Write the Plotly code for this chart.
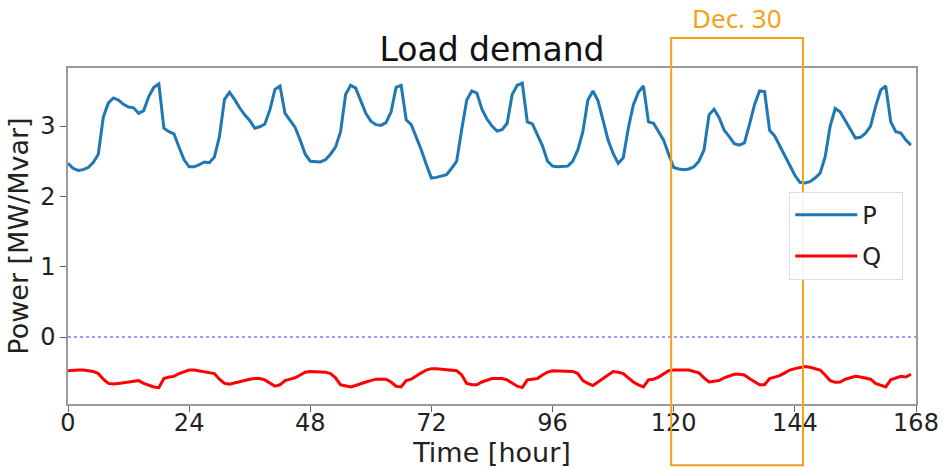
import plotly.graph_objects as go

hours = list(range(168))

P = [2.47, 2.40, 2.37, 2.38, 2.41, 2.48, 2.60, 3.13, 3.33, 3.40, 3.37, 3.31, 3.27, 3.26, 3.18, 3.22,
     3.42, 3.55, 3.60, 2.97, 2.92, 2.89, 2.70, 2.52, 2.42, 2.42, 2.45, 2.49, 2.48, 2.56, 2.85, 3.38,
     3.48, 3.38, 3.26, 3.16, 3.08, 2.97, 2.99, 3.03, 3.23, 3.52, 3.57, 3.18, 3.08, 2.98, 2.80, 2.60,
     2.50, 2.49, 2.49, 2.52, 2.60, 2.70, 2.92, 3.45, 3.58, 3.54, 3.35, 3.18, 3.07, 3.02, 3.01, 3.05,
     3.20, 3.55, 3.58, 3.09, 3.02, 2.85, 2.66, 2.45, 2.26, 2.27, 2.29, 2.31, 2.40, 2.50, 2.95, 3.37,
     3.50, 3.47, 3.24, 3.10, 3.00, 2.93, 2.95, 3.04, 3.45, 3.58, 3.61, 3.06, 3.03, 2.88, 2.72, 2.50,
     2.43, 2.42, 2.42, 2.43, 2.50, 2.66, 2.92, 3.37, 3.50, 3.36, 3.08, 2.80, 2.61, 2.47, 2.55, 2.97,
     3.30, 3.48, 3.57, 3.06, 3.04, 2.92, 2.80, 2.60, 2.41, 2.39, 2.38, 2.39, 2.42, 2.50, 2.66, 3.16,
     3.24, 3.12, 2.94, 2.85, 2.75, 2.73, 2.76, 3.02, 3.30, 3.50, 3.49, 2.94, 2.86, 2.72, 2.58, 2.44,
     2.30, 2.20, 2.19, 2.21, 2.26, 2.33, 2.56, 3.00, 3.25, 3.20, 3.07, 2.95, 2.83, 2.84, 2.90, 3.00,
     3.28, 3.51, 3.57, 3.06, 2.92, 2.90, 2.80, 2.73]

Q = [-0.48, -0.47, -0.47, -0.47, -0.48, -0.49, -0.52, -0.60, -0.66, -0.67, -0.66, -0.65, -0.64, -0.63,
     -0.62, -0.66, -0.69, -0.71, -0.72, -0.59, -0.57, -0.56, -0.52, -0.49, -0.47, -0.47, -0.48, -0.49,
     -0.50, -0.52, -0.60, -0.66, -0.67, -0.65, -0.64, -0.62, -0.60, -0.59, -0.59, -0.61, -0.66, -0.70,
     -0.68, -0.62, -0.60, -0.58, -0.54, -0.50, -0.49, -0.49, -0.49, -0.50, -0.52, -0.58, -0.68, -0.70,
     -0.71, -0.69, -0.66, -0.64, -0.62, -0.60, -0.60, -0.60, -0.64, -0.70, -0.71, -0.62, -0.60, -0.55,
     -0.51, -0.47, -0.45, -0.45, -0.455, -0.46, -0.47, -0.48, -0.54, -0.66, -0.68, -0.68, -0.64, -0.61,
     -0.59, -0.59, -0.59, -0.61, -0.66, -0.70, -0.72, -0.61, -0.60, -0.59, -0.54, -0.50, -0.48, -0.48,
     -0.48, -0.48, -0.49, -0.52, -0.62, -0.66, -0.69, -0.64, -0.59, -0.53, -0.49, -0.50, -0.52, -0.58,
     -0.64, -0.68, -0.71, -0.61, -0.60, -0.57, -0.53, -0.48, -0.47, -0.47, -0.47, -0.47, -0.49, -0.51,
     -0.58, -0.64, -0.63, -0.62, -0.58, -0.55, -0.53, -0.53, -0.54, -0.59, -0.64, -0.68, -0.68, -0.59,
     -0.57, -0.55, -0.51, -0.47, -0.45, -0.43, -0.42, -0.43, -0.45, -0.47, -0.54, -0.62, -0.645, -0.64,
     -0.60, -0.58, -0.56, -0.57, -0.59, -0.60, -0.66, -0.69, -0.71, -0.61, -0.58, -0.56, -0.57, -0.53]

x_ticks = [0, 24, 48, 72, 96, 120, 144, 168]
y_ticks = [0, 1, 2, 3]
highlight_start, highlight_end = 119.5, 145.6
highlight_label = "Dec. 30"

FONT = "DejaVu Sans"
ORANGE = "#F5A01A"

fig = go.Figure()
fig.add_trace(go.Scatter(x=hours, y=P, mode="lines", name="P\u00a0\u00a0", legendgroup="p",
                         line=dict(color="#1f77b4", width=3)))
fig.add_trace(go.Scatter(x=hours, y=Q, mode="lines", name="Q\u00a0\u00a0", legendgroup="q",
                         line=dict(color="#ff0000", width=3)))

# zero reference line
fig.add_shape(type="line", xref="paper", yref="y", x0=0, x1=1, y0=0, y1=0,
              line=dict(color="rgba(60,60,255,0.7)", width=1.5, dash="dot"), layer="below")

# highlight box (extends outside the plot)
fig.add_shape(type="rect", xref="x", yref="paper",
              x0=highlight_start, x1=highlight_end, y0=-0.182, y1=1.089,
              line=dict(color=ORANGE, width=2), fillcolor="rgba(0,0,0,0)", layer="above")
fig.add_annotation(x=(highlight_start + highlight_end) / 2, xref="x", y=1.089, yref="paper",
                   yanchor="bottom", text=highlight_label, showarrow=False,
                   font=dict(family="Noto Sans", size=26, color=ORANGE), yshift=0)

fig.update_layout(
    width=943, height=469,
    margin=dict(l=68, r=27, t=68, b=65, autoexpand=False),
    paper_bgcolor="white", plot_bgcolor="white",
    font=dict(family=FONT, color="#222222"),
    title=dict(text="Load demand", x=0.5, xanchor="center", xref="paper",
               y=1, yref="paper", yanchor="bottom", pad=dict(b=7),
               font=dict(family=FONT, size=33, color="#111111")),
    showlegend=True,
    legend=dict(x=0.985, xanchor="right", y=0.632, yanchor="top",
                bgcolor="rgba(255,255,255,0.9)", bordercolor="#dddddd", borderwidth=1,
                font=dict(family=FONT, size=24, color="#222222"),
                itemwidth=62, tracegroupgap=7),
)
fig.update_xaxes(range=[0, 168], tickvals=x_ticks, ticktext=[str(t) for t in x_ticks],
                 automargin=False, ticklabelstandoff=-10,
                 showgrid=False, zeroline=False, showline=True, mirror=True,
                 linecolor="#9a9a9a", linewidth=1.5, ticks="outside", ticklen=6,
                 tickcolor="#666666", tickfont=dict(size=24, family=FONT),
                 title=dict(text="Time [hour]", font=dict(size=27, family=FONT), standoff=2))
fig.update_yaxes(range=[-0.953, 3.826], tickvals=y_ticks, ticktext=[str(t) for t in y_ticks],
                 automargin=False,
                 showgrid=False, zeroline=False, showline=True, mirror=True,
                 linecolor="#9a9a9a", linewidth=1.5, ticks="outside", ticklen=6,
                 tickcolor="#666666", tickfont=dict(size=24, family=FONT),
                 title=dict(text="Power [MW/Mvar]", font=dict(size=27, family=FONT), standoff=4))

# remove the default page margin so the figure fills the window exactly
fig.write_html("out.html", config={"displayModeBar": False},
               post_script="document.body.style.margin='0';document.body.style.overflow='hidden';")
